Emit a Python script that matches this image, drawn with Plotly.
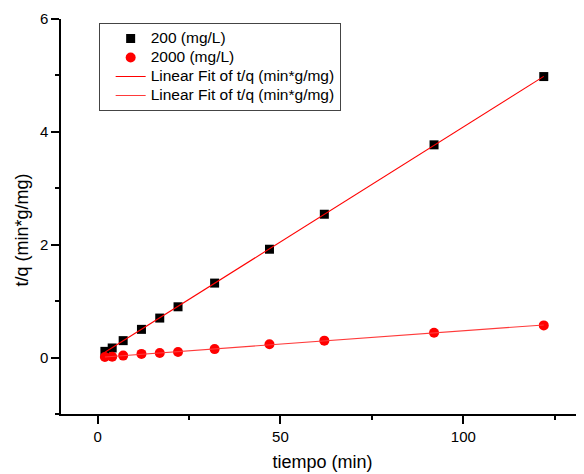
import numpy as np
import plotly.graph_objects as go

# Data
tiempo = [2, 4, 7, 12, 17, 22, 32, 47, 62, 92, 122]
tq_200 = [0.11, 0.17, 0.30, 0.50, 0.70, 0.90, 1.32, 1.92, 2.54, 3.77, 4.98]
tq_2000 = [0.01, 0.015, 0.035, 0.065, 0.08, 0.10, 0.15, 0.235, 0.30, 0.44, 0.57]

name_200 = "200 (mg/L)"
name_2000 = "2000 (mg/L)"
fit_name = "Linear Fit of t/q (min*g/mg)"

x_title = "tiempo (min)"
y_title = "t/q (min*g/mg)"

FONT = "Liberation Sans, Arial, sans-serif"


def big(s):
    return "<span style='font-size:15.5px'>" + s + "</span>"


t = np.array(tiempo, dtype=float)
fx = np.array([t.min(), t.max()])
p200 = np.polyfit(t, np.array(tq_200), 1)
p2000 = np.polyfit(t, np.array(tq_2000), 1)

fig = go.Figure()
fig.add_trace(go.Scatter(x=tiempo, y=tq_200, mode="markers", name=big(name_200),
                         marker=dict(symbol="square", size=9, color="black")))
fig.add_trace(go.Scatter(x=tiempo, y=tq_2000, mode="markers", name=big(name_2000),
                         marker=dict(symbol="circle", size=10, color="#ff0000")))
fig.add_trace(go.Scatter(x=fx, y=np.polyval(p200, fx), mode="lines", name=big(fit_name),
                         line=dict(color="#ff0000", width=1.1)))
fig.add_trace(go.Scatter(x=fx, y=np.polyval(p2000, fx), mode="lines", name=big(fit_name),
                         line=dict(color="#ff3a3a", width=1.1)))

# page body has an 8px default margin, so the figure is sized to fit the window
fig.update_layout(
    width=576, height=466,
    margin=dict(l=52.5, r=0, t=11, b=60, autoexpand=False),
    paper_bgcolor="white", plot_bgcolor="white",
    font=dict(family=FONT, color="black", size=15),
    showlegend=True,
    legend=dict(x=0.072, y=0.99, xanchor="left", yanchor="top",
                bordercolor="#444444", borderwidth=1, bgcolor="white",
                font=dict(size=11.7, family=FONT), tracegroupgap=0,
                indentation=11),
    xaxis=dict(range=[-10, 133], showgrid=False, zeroline=False,
               showline=True, linecolor="black", linewidth=1.5,
               ticks="outside", ticklen=8, tickwidth=1.5, tickcolor="black",
               tick0=0, dtick=50,
               minor=dict(ticks="outside", ticklen=4, tickwidth=1.5,
                          tickcolor="black", dtick=25, showgrid=False),
               title=dict(text=x_title, font=dict(size=18), standoff=12)),
    yaxis=dict(range=[-1, 6], showgrid=False, zeroline=False,
               showline=True, linecolor="black", linewidth=1.5,
               ticks="outside", ticklen=8, tickwidth=1.5, tickcolor="black",
               tick0=0, dtick=2,
               minor=dict(ticks="outside", ticklen=4, tickwidth=1.5,
                          tickcolor="black", dtick=1, showgrid=False)),
    annotations=[dict(text=y_title, textangle=-90, xref="paper", yref="paper",
                      x=0, y=0.466, xshift=-39.5, xanchor="center", yanchor="middle",
                      showarrow=False, font=dict(size=18, family=FONT, color="black"))],
)

fig.write_html("out.html")
